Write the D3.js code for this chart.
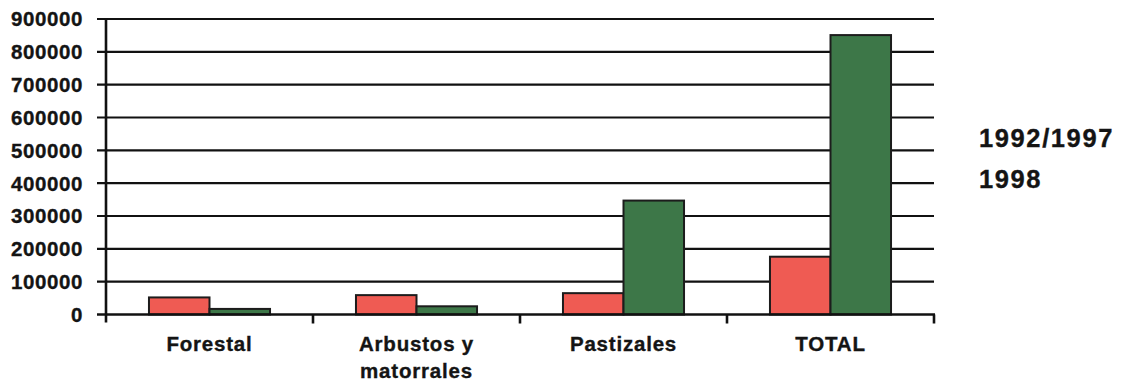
<!DOCTYPE html>
<html>
<head>
<meta charset="utf-8">
<script src="https://cdn.jsdelivr.net/npm/d3@7"></script>
<style>
  html, body { margin: 0; padding: 0; background: #ffffff; }
  svg { display: block; }
  text { font-family: "Liberation Sans", Arial, Helvetica, sans-serif; font-weight: bold; fill: #141414; stroke: #141414; stroke-width: 0.35px; }
</style>
</head>
<body>
<svg id="chart" width="1122" height="386"></svg>
<script>
// Surface by land-cover class, two survey periods
const categories = ["Forestal", "Arbustos y\nmatorrales", "Pastizales", "TOTAL"];
const seriesNames = ["1992/1997", "1998"];
const values1992_1997 = [52000, 59000, 65000, 176000];
const values1998 = [17000, 25000, 347000, 851000];
const yTicks = [0, 100000, 200000, 300000, 400000, 500000, 600000, 700000, 800000, 900000];
const seriesColors = ["#ef5b53", "#3d7748"];

const svg = d3.select("#chart");
const plotLeft = 106, plotRight = 934, plotTop = 19, plotBottom = 314.5;

const y = d3.scaleLinear().domain([0, 900000]).range([plotBottom, plotTop]);
const x0 = d3.scaleBand().domain(categories).range([plotLeft, plotRight]).padding(0);
const x1 = d3.scaleBand().domain(seriesNames).range([0, x0.bandwidth()])
  .paddingInner(0).paddingOuter(0.71);

const rows = categories.map((c, i) => ({
  cat: c,
  vals: [
    { s: seriesNames[0], v: values1992_1997[i] },
    { s: seriesNames[1], v: values1998[i] }
  ]
}));

// horizontal gridlines with left ticks
svg.append("g")
  .selectAll("line")
  .data(yTicks.filter(t => t > 0))
  .join("line")
  .attr("x1", plotLeft - 9).attr("x2", plotRight)
  .attr("y1", d => y(d)).attr("y2", d => y(d))
  .attr("stroke", "#111").attr("stroke-width", 2.2);

// y tick labels
svg.append("g")
  .selectAll("text")
  .data(yTicks)
  .join("text")
  .attr("x", 83)
  .attr("y", d => y(d))
  .attr("dy", "0.36em")
  .attr("text-anchor", "end")
  .style("font-size", "20.5px")
  .style("letter-spacing", "0.6px")
  .text(d => d);

// bars
const groups = svg.append("g")
  .selectAll("g")
  .data(rows)
  .join("g")
  .attr("transform", d => `translate(${x0(d.cat)},0)`);

groups.selectAll("rect")
  .data(d => d.vals)
  .join("rect")
  .attr("x", d => x1(d.s))
  .attr("y", d => y(d.v))
  .attr("width", x1.bandwidth())
  .attr("height", d => y(0) - y(d.v))
  .attr("fill", (d, i) => seriesColors[i])
  .attr("stroke", "#1c1c1c")
  .attr("stroke-width", 2);

// y axis line
svg.append("line")
  .attr("x1", plotLeft).attr("x2", plotLeft)
  .attr("y1", plotTop - 1).attr("y2", plotBottom + 8)
  .attr("stroke", "#111").attr("stroke-width", 2.6);

// x axis baseline and category boundary ticks
svg.append("line")
  .attr("x1", plotLeft - 9).attr("x2", plotRight + 1)
  .attr("y1", plotBottom).attr("y2", plotBottom)
  .attr("stroke", "#111").attr("stroke-width", 2.6);

const boundaries = categories.map(c => x0(c) + x0.bandwidth());
svg.append("g")
  .selectAll("line")
  .data(boundaries)
  .join("line")
  .attr("x1", d => d).attr("x2", d => d)
  .attr("y1", plotBottom).attr("y2", plotBottom + 9)
  .attr("stroke", "#111").attr("stroke-width", 2.6);

// category labels
const catLabels = svg.append("g")
  .selectAll("text")
  .data(categories)
  .join("text")
  .attr("text-anchor", "middle")
  .attr("x", d => x0(d) + x0.bandwidth() / 2)
  .attr("y", 351)
  .style("font-size", "20.5px")
  .style("letter-spacing", "0.8px");

catLabels.selectAll("tspan")
  .data(d => d.split("\n"))
  .join("tspan")
  .attr("x", function() { return d3.select(this.parentNode).attr("x"); })
  .attr("dy", (d, i) => i === 0 ? 0 : 27)
  .text(d => d);

// legend (text entries)
svg.append("g")
  .selectAll("text")
  .data(seriesNames)
  .join("text")
  .attr("x", 979)
  .attr("y", (d, i) => 147 + i * 40.5)
  .style("font-size", "25.5px")
  .style("letter-spacing", "1.6px")
  .text(d => d);
</script>
</body>
</html>
